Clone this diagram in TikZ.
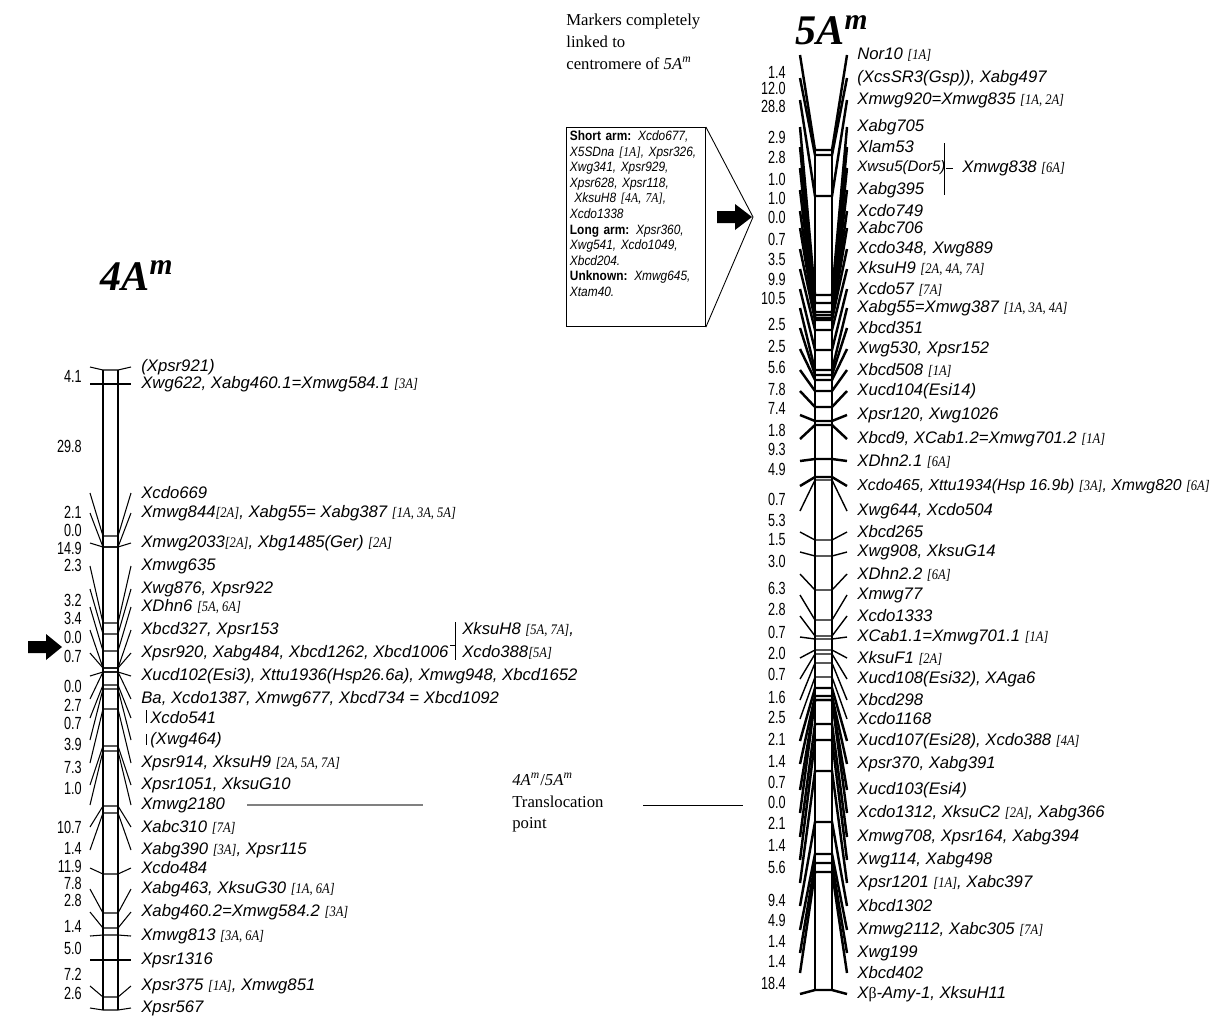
\documentclass[tikz,border=0pt]{standalone}
\usepackage{fontspec}
\setmainfont{Liberation Serif}
\newfontfamily\sansfam{Liberation Sans}
\newfontfamily\narrowfam[FakeStretch=0.72]{Liberation Sans}
\newfontfamily\boxfam[FakeStretch=0.88]{Liberation Sans}
\newfontfamily\chrfam[FakeStretch=0.86]{Liberation Serif}
\newcommand\mkfont{\sansfam\itshape\fontsize{9.5}{11}\selectfont}
\newcommand\numfont{\narrowfam\fontsize{10}{11}\selectfont}
\newcommand\chrs[1]{{\chrfam\itshape\fontsize{8.3}{10}\selectfont[#1]}}
\tikzset{
  mk/.style={anchor=west, inner sep=0pt, font=\mkfont},
  dist/.style={anchor=east, inner sep=0pt, font=\numfont},
  chrom/.style={line width=0.6pt},
  ttl/.style={anchor=base west, inner sep=0pt, font=\fontsize{24}{26}\selectfont\bfseries\itshape},
  note/.style={anchor=north west, inner sep=0pt, align=left, font=\fontsize{9.5}{12.3}\selectfont},
}
\begin{document}
\begin{tikzpicture}[x=0.02cm,y=-0.02cm]
\useasboundingbox (0,0) rectangle (1222,1017);
% titles
\node[ttl] (t4) at (100,290) {4A\textsuperscript{m}};
\node[ttl] (t5) at (795,45) {5A\textsuperscript{m}};

% ---- chromosome 4A^m ----
\coordinate (lb) at (90,0);
\coordinate (rb) at (131,0);
\node[mk] (a1) at (141,367) {(Xpsr921)};
\node[mk] (a2) at (141,384) {Xwg622, Xabg460.1=Xmwg584.1 \chrs{3A}};
\node[mk] (a3) at (141,493) {Xcdo669};
\node[mk] (a4) at (141,513) {Xmwg844\chrs{2A}, Xabg55= Xabg387 \chrs{1A, 3A, 5A}};
\node[mk] (a5) at (141,543) {Xmwg2033\chrs{2A}, Xbg1485(Ger) \chrs{2A}};
\node[mk] (a6) at (141,566) {Xmwg635};
\node[mk] (a7) at (141,589) {Xwg876, Xpsr922};
\node[mk] (a8) at (141,607) {XDhn6 \chrs{5A, 6A}};
\node[mk] (a9) at (141,630) {Xbcd327, Xpsr153};
\node[mk] (a10) at (141,653) {Xpsr920, Xabg484, Xbcd1262, Xbcd1006};
\node[mk] (a11) at (141,676) {Xucd102(Esi3), Xttu1936(Hsp26.6a), Xmwg948, Xbcd1652};
\node[mk] (a12) at (141,699) {Ba, Xcdo1387, Xmwg677, Xbcd734 = Xbcd1092};
\node[mk] (a13) at (150,718) {Xcdo541};
\node[mk] (a14) at (150,740) {(Xwg464)};
\node[mk] (a15) at (141,763) {Xpsr914, XksuH9 \chrs{2A, 5A, 7A}};
\node[mk] (a16) at (141,785) {Xpsr1051, XksuG10};
\node[mk] (a17) at (141,805) {Xmwg2180};
\node[mk] (a18) at (141,827) {Xabc310 \chrs{7A}};
\node[mk] (a19) at (141,850) {Xabg390 \chrs{3A}, Xpsr115};
\node[mk] (a20) at (141,868) {Xcdo484};
\node[mk] (a21) at (141,889) {Xabg463, XksuG30 \chrs{1A, 6A}};
\node[mk] (a22) at (141,912) {Xabg460.2=Xmwg584.2 \chrs{3A}};
\node[mk] (a23) at (141,936) {Xmwg813 \chrs{3A, 6A}};
\node[mk] (a24) at (141,960) {Xpsr1316};
\node[mk] (a25) at (141,986) {Xpsr375 \chrs{1A}, Xmwg851};
\node[mk] (a26) at (141,1008) {Xpsr567};
\foreach \v/\y [count=\k] in {4.1/376, 29.8/446, 2.1/512, 0.0/530, 14.9/548,
    2.3/565, 3.2/600, 3.4/618, 0.0/637, 0.7/656, 0.0/686, 2.7/705, 0.7/723,
    3.9/744, 7.3/767, 1.0/788, 10.7/827, 1.4/848, 11.9/866, 7.8/883, 2.8/900,
    1.4/926, 5.0/948, 7.2/974, 2.6/993}
  \node[dist] (p\k) at (82,\y) {\v};
\draw[chrom] (103,370) -- (103,1010);
\draw[chrom] (118,370) -- (118,1010);
\foreach \i/\ry in {1/370, 2/384, 3/536, 4/547, 5/547, 6/623, 7/634, 8/651,
    9/668, 10/668, 11/672, 12/672, 13/685, 14/689, 15/709, 16/746, 17/751,
    18/806, 19/813, 20/874, 21/913, 22/928, 23/935, 24/960, 25/997, 26/1010}
  \draw[chrom] (lb |- a\i.west) -- (103,\ry) -- (118,\ry) -- (rb |- a\i.west);
\draw (146,710) -- (146,723);
\draw (146,734) -- (146,745);
% linked markers beside 4A
\node[mk] (k1) at (462,630) {XksuH8 \chrs{5A, 7A},};
\node[mk] (k2) at (462,652) {Xcdo388\chrs{5A}};
\draw (455,622) -- (455,660);
\draw (450,645) -- (455,645);
% centromere arrow
\fill (28,641) -- (46,641) -- (46,634) -- (62,647) -- (46,660) -- (46,653) -- (28,653) -- cycle;

% ---- translocation point ----
\node[note] (trans) at (512,773)
  {\textit{4A}\textsuperscript{\textit{m}}/\textit{5A}\textsuperscript{\textit{m}}\\Translocation\\point};
\coordinate (tl1) at (247,805);
\coordinate (tl2) at (423,805);
\coordinate (tr1) at (643,805);
\coordinate (tr2) at (743,805);
\draw[gray, line width=0.6pt] (tl1) -- (tl2);
\draw[line width=0.5pt] (tr1) -- (tr2);

% ---- centromere box ----
\node[note] (mnote) at (566,14)
  {Markers completely\\linked to\\centromere of \textit{5A}\textsuperscript{\textit{m}}};
\node[draw, line width=0.5pt, anchor=north west, inner sep=2pt, align=left,
      text width=2.64cm, font=\boxfam\fontsize{7.7}{8.85}\selectfont] (cbox) at (566,127)
  {\textbf{Short arm:} \textit{Xcdo677,}\\
   \textit{X5SDna} {\chrfam\itshape[1A]}\textit{, Xpsr326,}\\
   \textit{Xwg341, Xpsr929,}\\
   \textit{Xpsr628, Xpsr118,}\\
   \ \textit{XksuH8} {\chrfam\itshape[4A, 7A]}\textit{,}\\
   \textit{Xcdo1338}\\
   \textbf{Long arm:} \textit{Xpsr360,}\\
   \textit{Xwg541, Xcdo1049,}\\
   \textit{Xbcd204.}\\
   \textbf{Unknown:} \textit{Xmwg645,}\\
   \textit{Xtam40.}\\
   \rule{0pt}{0.5cm}};
\coordinate (apex) at (753,217);
\draw[line width=0.5pt] (cbox.north east) -- (apex) -- (cbox.south east);
\fill (717,211) -- (735,211) -- (735,204) -- (752,217) -- (735,230) -- (735,223) -- (717,223) -- cycle;

% ---- chromosome 5A^m ----
\coordinate (ll) at (800,0);
\coordinate (rr) at (847,0);
\node[mk] (b1) at (857,55) {Nor10 \chrs{1A}};
\node[mk] (b2) at (857,78) {(XcsSR3(Gsp)), Xabg497};
\node[mk] (b3) at (857,100) {Xmwg920=Xmwg835 \chrs{1A, 2A}};
\node[mk] (b4) at (857,127) {Xabg705};
\node[mk] (b5) at (857,147) {Xlam53};
\node[mk, font=\sansfam\itshape\fontsize{8.6}{10}\selectfont] (b6) at (857,168) {Xwsu5(Dor5)};
\node[mk] (b7) at (857,190) {Xabg395};
\node[mk] (b8) at (857,211) {Xcdo749};
\node[mk] (b9) at (857,228) {Xabc706};
\node[mk] (b10) at (857,249) {Xcdo348, Xwg889};
\node[mk] (b11) at (857,269) {XksuH9 \chrs{2A, 4A, 7A}};
\node[mk] (b12) at (857,289) {Xcdo57 \chrs{7A}};
\node[mk] (b13) at (857,308) {Xabg55=Xmwg387 \chrs{1A, 3A, 4A}};
\node[mk] (b14) at (857,328) {Xbcd351};
\node[mk] (b15) at (857,349) {Xwg530, Xpsr152};
\node[mk] (b16) at (857,370) {Xbcd508 \chrs{1A}};
\node[mk] (b17) at (857,391) {Xucd104(Esi14)};
\node[mk] (b18) at (857,415) {Xpsr120, Xwg1026};
\node[mk] (b19) at (857,439) {Xbcd9, XCab1.2=Xmwg701.2 \chrs{1A}};
\node[mk] (b20) at (857,461) {XDhn2.1 \chrs{6A}};
\node[mk, font=\sansfam\itshape\fontsize{9}{11}\selectfont] (b21) at (857,486)
  {Xcdo465, Xttu1934(Hsp 16.9b) \chrs{3A}, Xmwg820 \chrs{6A}};
\node[mk] (b22) at (857,511) {Xwg644, Xcdo504};
\node[mk] (b23) at (857,532) {Xbcd265};
\node[mk] (b24) at (857,552) {Xwg908, XksuG14};
\node[mk] (b25) at (857,574) {XDhn2.2 \chrs{6A}};
\node[mk] (b26) at (857,595) {Xmwg77};
\node[mk] (b27) at (857,616) {Xcdo1333};
\node[mk] (b28) at (857,637) {XCab1.1=Xmwg701.1 \chrs{1A}};
\node[mk] (b29) at (857,658) {XksuF1 \chrs{2A}};
\node[mk] (b30) at (857,679) {Xucd108(Esi32), XAga6};
\node[mk] (b31) at (857,700) {Xbcd298};
\node[mk] (b32) at (857,719) {Xcdo1168};
\node[mk] (b33) at (857,741) {Xucd107(Esi28), Xcdo388 \chrs{4A}};
\node[mk] (b34) at (857,764) {Xpsr370, Xabg391};
\node[mk] (b35) at (857,790) {Xucd103(Esi4)};
\node[mk] (b36) at (857,813) {Xcdo1312, XksuC2 \chrs{2A}, Xabg366};
\node[mk] (b37) at (857,837) {Xmwg708, Xpsr164, Xabg394};
\node[mk] (b38) at (857,860) {Xwg114, Xabg498};
\node[mk] (b39) at (857,883) {Xpsr1201 \chrs{1A}, Xabc397};
\node[mk] (b40) at (857,906) {Xbcd1302};
\node[mk] (b41) at (857,930) {Xmwg2112, Xabc305 \chrs{7A}};
\node[mk] (b42) at (857,953) {Xwg199};
\node[mk] (b43) at (857,973) {Xbcd402};
\node[mk] (b44) at (857,994) {X{\rmfamily\upshape\small β}-Amy-1, XksuH11};
\foreach \v/\y [count=\k] in {1.4/72, 12.0/88, 28.8/106, 2.9/137, 2.8/157,
    1.0/179, 1.0/198, 0.0/217, 0.7/239, 3.5/259, 9.9/279, 10.5/298, 2.5/324,
    2.5/346, 5.6/367, 7.8/389, 7.4/408, 1.8/430, 9.3/449, 4.9/469, 0.7/499,
    5.3/520, 1.5/540, 3.0/561, 6.3/588, 2.8/609, 0.7/632, 2.0/653, 0.7/674,
    1.6/697, 2.5/717, 2.1/739, 1.4/761, 0.7/782, 0.0/802, 2.1/823, 1.4/845,
    5.6/867, 9.4/900, 4.9/920, 1.4/941, 1.4/961, 18.4/983}
  \node[dist] (q\k) at (786,\y) {\v};
\draw[chrom] (815,150) -- (815,990);
\draw[chrom] (832,150) -- (832,990);
% long arms of the spindle (heavy), middle fans (light)
\foreach \i/\ry in {1/150, 2/155, 3/196, 4/295, 5/303, 6/312, 7/315, 8/318,
    9/318, 10/320, 11/330, 12/350, 13/370, 14/375, 15/380, 16/391, 17/407,
    18/421, 19/425, 20/459, 21/477, 33/688, 34/696, 35/700, 36/700, 37/724,
    38/740, 39/771, 40/822, 41/854, 42/863, 43/872, 44/990}
  \draw[chrom, line width=1.4pt] (ll |- b\i.west) -- (815,\ry) -- (832,\ry) -- (rr |- b\i.west);
\foreach \i/\ry in {22/480, 23/540, 24/556, 25/590, 26/620, 27/636, 28/639,
    29/650, 30/654, 31/663, 32/677}
  \draw[chrom, line width=0.8pt] (ll |- b\i.west) -- (815,\ry) -- (832,\ry) -- (rr |- b\i.west);
% markers linked to Xwsu5
\node[mk] (c838) at (962,168) {Xmwg838 \chrs{6A}};
\draw (944,143) -- (944,195);
\draw (946,168) -- (953,168);
\end{tikzpicture}
\end{document}
